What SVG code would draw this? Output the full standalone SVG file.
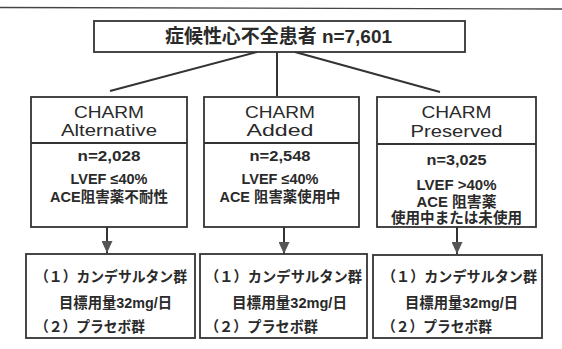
<svg xmlns="http://www.w3.org/2000/svg" width="562" height="349" viewBox="0 0 562 349">
<style>
.box{fill:#fff;stroke:#333;stroke-width:1.8}
.ln{stroke:#333;stroke-width:2;fill:none}
.t{font-family:"Liberation Sans","Noto Sans CJK JP",sans-serif;fill:#2a2a2a;text-anchor:middle}
.title{font-size:19px;font-weight:bold}
.hd{font-size:17px}
.b{font-size:14.5px;font-weight:bold}
.bl{font-family:"Liberation Sans","Noto Sans CJK JP",sans-serif;fill:#2a2a2a;font-size:14.5px;font-weight:bold}
</style>
<defs>
<marker id="ah" viewBox="0 0 12 11" refX="12" refY="5.5" markerWidth="12" markerHeight="11" markerUnits="userSpaceOnUse" orient="auto">
<path d="M0,0 L12,5.5 L0,11 Z" fill="#555"/>
</marker>
</defs>
<line x1="0" y1="7.5" x2="562" y2="9" stroke="#444" stroke-width="1.3"/>
<g id="connectors">
<line class="ln" x1="257" y1="52" x2="110" y2="91"/>
<line class="ln" x1="277" y1="52" x2="277" y2="96"/>
<line class="ln" x1="295" y1="52" x2="440" y2="92"/>
<line class="ln" x1="107" y1="227" x2="107" y2="253" marker-end="url(#ah)"/>
<line class="ln" x1="284" y1="227" x2="284" y2="254" marker-end="url(#ah)"/>
<line class="ln" x1="457" y1="227" x2="457" y2="254" marker-end="url(#ah)"/>
</g>
<g id="top">
<rect class="box" x="94" y="21" width="371" height="31"/>
<text class="t title" x="278.5" y="43" textLength="227" lengthAdjust="spacingAndGlyphs">症候性心不全患者 n=7,601</text>
</g>
<g id="alt">
<rect class="box" x="31" y="97" width="156" height="130"/>
<line class="ln" x1="31" y1="143" x2="187" y2="143" stroke-width="1.8"/>
<text class="t hd" x="109" y="118" textLength="70" lengthAdjust="spacingAndGlyphs">CHARM</text>
<text class="t hd" x="109" y="136" textLength="96" lengthAdjust="spacingAndGlyphs">Alternative</text>
<text class="t b" x="109" y="161" textLength="63" lengthAdjust="spacingAndGlyphs">n=2,028</text>
<text class="t b" x="109" y="184" textLength="77" lengthAdjust="spacingAndGlyphs">LVEF ≤40%</text>
<text class="t b" x="109" y="202" textLength="118" lengthAdjust="spacingAndGlyphs">ACE阻害薬不耐性</text>
</g>
<g id="added">
<rect class="box" x="204" y="97" width="155" height="130"/>
<line class="ln" x1="204" y1="143" x2="359" y2="143" stroke-width="1.8"/>
<text class="t hd" x="280" y="118" textLength="70" lengthAdjust="spacingAndGlyphs">CHARM</text>
<text class="t hd" x="280" y="136" textLength="67" lengthAdjust="spacingAndGlyphs">Added</text>
<text class="t b" x="280" y="161" textLength="61" lengthAdjust="spacingAndGlyphs">n=2,548</text>
<text class="t b" x="280" y="184" textLength="77" lengthAdjust="spacingAndGlyphs">LVEF ≤40%</text>
<text class="t b" x="280" y="202" textLength="121" lengthAdjust="spacingAndGlyphs">ACE 阻害薬使用中</text>
</g>
<g id="preserved">
<rect class="box" x="377" y="97" width="159" height="130"/>
<line class="ln" x1="377" y1="144" x2="536" y2="144" stroke-width="1.8"/>
<text class="t hd" x="456.5" y="118" textLength="70" lengthAdjust="spacingAndGlyphs">CHARM</text>
<text class="t hd" x="456.5" y="137" textLength="92" lengthAdjust="spacingAndGlyphs">Preserved</text>
<text class="t b" x="456.5" y="165" textLength="60" lengthAdjust="spacingAndGlyphs">n=3,025</text>
<text class="t b" x="456.5" y="190" textLength="80" lengthAdjust="spacingAndGlyphs">LVEF &gt;40%</text>
<text class="t b" x="456.5" y="207" textLength="80" lengthAdjust="spacingAndGlyphs">ACE 阻害薬</text>
<text class="t b" x="456.5" y="223" textLength="131" lengthAdjust="spacingAndGlyphs">使用中または未使用</text>
</g>
<g id="res1">
<rect class="box" x="26" y="254" width="169" height="84"/>
<text class="bl" x="35" y="282" textLength="152" lengthAdjust="spacingAndGlyphs">（１）カンデサルタン群</text>
<text class="bl" x="59" y="308" textLength="113" lengthAdjust="spacingAndGlyphs">目標用量32mg/日</text>
<text class="bl" x="35" y="332" textLength="110" lengthAdjust="spacingAndGlyphs">（２）プラセボ群</text>
</g>
<g id="res2">
<rect class="box" x="200" y="254" width="167" height="84"/>
<text class="bl" x="205" y="282" textLength="157" lengthAdjust="spacingAndGlyphs">（１）カンデサルタン群</text>
<text class="bl" x="232" y="308" textLength="115" lengthAdjust="spacingAndGlyphs">目標用量32mg/日</text>
<text class="bl" x="205" y="332" textLength="113" lengthAdjust="spacingAndGlyphs">（２）プラセボ群</text>
</g>
<g id="res3">
<rect class="box" x="373" y="255" width="169" height="83"/>
<text class="bl" x="382" y="282" textLength="155" lengthAdjust="spacingAndGlyphs">（１）カンデサルタン群</text>
<text class="bl" x="405" y="308" textLength="113" lengthAdjust="spacingAndGlyphs">目標用量32mg/日</text>
<text class="bl" x="382" y="332" textLength="110" lengthAdjust="spacingAndGlyphs">（２）プラセボ群</text>
</g>
</svg>
